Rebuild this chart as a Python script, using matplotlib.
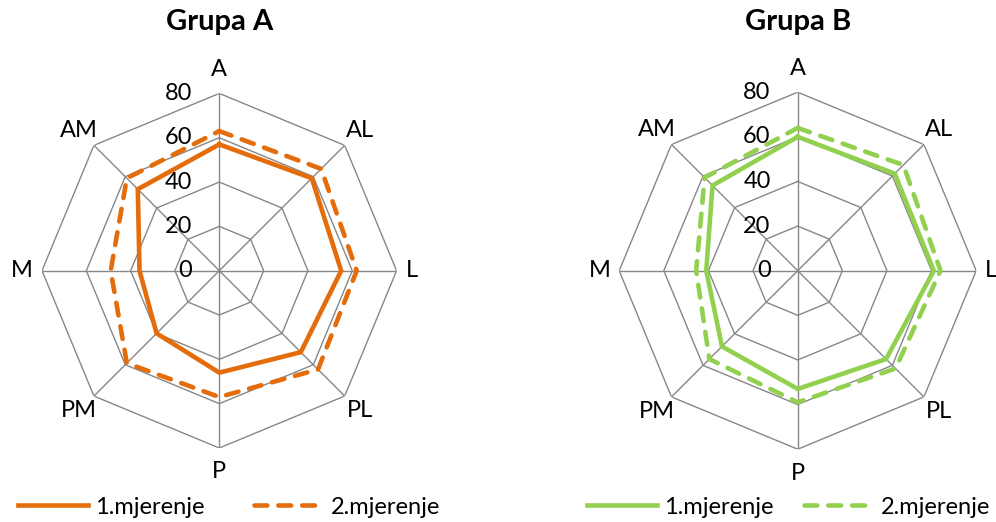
import numpy as np
import matplotlib
matplotlib.use('Agg')
import matplotlib.pyplot as plt
from matplotlib.transforms import offset_copy

categories = ['A', 'AL', 'L', 'PL', 'P', 'PM', 'M', 'AM']
r_ticks = [0, 20, 40, 60, 80]

grupa_a_1 = [57, 59, 55, 52, 46, 40, 36, 52]
grupa_a_2 = [63, 65, 62, 63, 57, 59, 49, 59]
grupa_b_1 = [60, 61.5, 61, 56, 53, 48, 41, 54]
grupa_b_2 = [64, 67, 64, 62, 59, 56, 45.5, 59]

plt.rcParams['font.family'] = ['Lato', 'DejaVu Sans']

W, H = 996, 522
fs = 17
fig = plt.figure(figsize=(W / 100, H / 100), dpi=100)

angles = np.linspace(0, 2 * np.pi, len(categories), endpoint=False)
closed = np.append(angles, angles[0])

# placement of the category labels (radius, ha, va)
label_pos = {
    'A': (86, 'center', 'bottom'),
    'AL': (89.5, 'center', 'center'),
    'L': (84, 'left', 'center'),
    'PL': (89.5, 'center', 'center'),
    'P': (86, 'center', 'top'),
    'PM': (89.5, 'center', 'center'),
    'M': (84, 'right', 'center'),
    'AM': (89.5, 'center', 'center'),
}


def radar(cx, cy, rad, title, s1, s2, color, leg_x, colspace):
    ax = fig.add_axes([(cx - rad) / W, (H - cy - rad) / H, 2 * rad / W, 2 * rad / H],
                      projection='polar')
    ax.set_theta_offset(np.pi / 2)
    ax.set_theta_direction(-1)
    ax.set_ylim(0, 80)
    ax.grid(False)
    ax.spines['polar'].set_visible(False)
    ax.set_xticks([])
    ax.set_yticks([])
    ax.patch.set_alpha(0)

    grid_c = '#878787'
    for r in r_ticks[1:]:
        ax.plot(closed, [r] * len(closed), color=grid_c, lw=1.0, zorder=1)
    for t in angles:
        ax.plot([t, t], [0, 80], color=grid_c, lw=1.0, zorder=1)

    tr = offset_copy(ax.transData, fig=fig, x=-27, y=0, units='dots')
    for r in r_ticks:
        ax.text(0, r, str(r), transform=tr, ha='right', va='center', fontsize=fs)

    for t, c in zip(angles, categories):
        rr, ha, va = label_pos[c]
        ax.text(t, rr, c, ha=ha, va=va, fontsize=fs)

    ax.plot(closed, s1 + s1[:1], color=color, lw=3.3, label='1.mjerenje',
            solid_joinstyle='miter', zorder=3)
    ax.plot(closed, s2 + s2[:1], color=color, lw=3.3, label='2.mjerenje',
            dashes=(2.8, 2.4), dash_capstyle='round', zorder=3)

    fig.text(cx / W, 1 - 22 / H, title, ha='center', va='center',
             fontsize=21, fontweight='bold')
    ax.legend(loc='center left', bbox_to_anchor=(leg_x / W, 1 - 507 / H),
              bbox_transform=fig.transFigure, ncol=2, frameon=False,
              fontsize=fs, handlelength=2.96, handletextpad=0.3,
              columnspacing=colspace, borderaxespad=0, borderpad=0)
    return ax


radar(219.3, 270.7, 177.3, 'Grupa A', grupa_a_1, grupa_a_2, '#E46C0A', 18, 2.1)
radar(797.7, 270.7, 178.5, 'Grupa B', grupa_b_1, grupa_b_2, '#92D050', 587, 1.3)

fig.savefig('out.png', dpi=100)
